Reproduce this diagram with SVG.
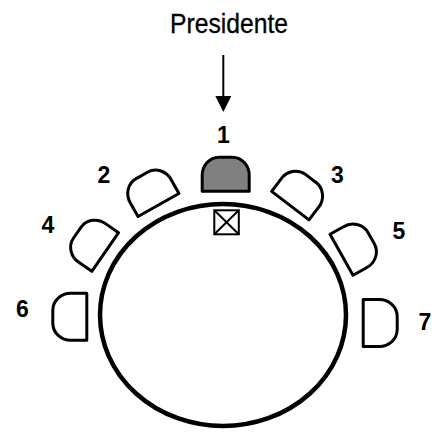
<svg xmlns="http://www.w3.org/2000/svg" width="432" height="432" viewBox="0 0 432 432">
<style>
.chair{fill:#fff;stroke:#000;stroke-width:3;stroke-linejoin:round}
.pres{fill:#808080}
.num{font-family:"Liberation Sans",Arial,sans-serif;font-weight:bold;font-size:23px;text-anchor:middle;fill:#000}
.lbl{font-family:"Liberation Sans",Arial,sans-serif;font-size:27px;text-anchor:middle;fill:#000;stroke:#000;stroke-width:0.3}
</style>
<defs>
<path id="chairShape" d="M -23.5,0 V -15 A 17,18 0 0 1 -6.5,-34 H 6.5 A 17,18 0 0 1 23.5,-15 V 0 Z"/>
</defs>
<g id="title"><text class="lbl" x="229" y="33" textLength="118" lengthAdjust="spacingAndGlyphs">Presidente</text></g>
<g id="connectors">
<line x1="223.3" y1="55" x2="223.3" y2="97" stroke="#000" stroke-width="2"/>
<path d="M215.3,96 L231.3,96 L223.3,112 Z" fill="#000"/>
</g>
<g id="table"><ellipse cx="223" cy="315" rx="123" ry="111" fill="#fff" stroke="#000" stroke-width="4.5"/></g>
<g id="marker-box">
<rect x="214.3" y="210.3" width="24.5" height="24" fill="#fff" stroke="#000" stroke-width="2"/>
<path d="M214.3,210.3 L238.8,234.3 M238.8,210.3 L214.3,234.3" stroke="#000" stroke-width="2"/>
</g>
<g id="chair1"><use href="#chairShape" class="chair pres" transform="translate(225.7,191.2)"/><text class="num" x="223.3" y="143">1</text></g>
<g id="chair2"><use href="#chairShape" class="chair" transform="translate(158.5,205) rotate(-29.4)"/><text class="num" x="104" y="183">2</text></g>
<g id="chair3"><use href="#chairShape" class="chair" transform="translate(290.3,205.6) rotate(37.4)"/><text class="num" x="337.5" y="183">3</text></g>
<g id="chair4"><use href="#chairShape" class="chair" transform="translate(105.2,252) rotate(-55.3)"/><text class="num" x="48" y="233">4</text></g>
<g id="chair5"><use href="#chairShape" class="chair" transform="translate(341.5,254.8) rotate(60.7)"/><text class="num" x="399" y="239">5</text></g>
<g id="chair6"><use href="#chairShape" class="chair" transform="translate(86.8,316.7) rotate(-90)"/><text class="num" x="22.5" y="317">6</text></g>
<g id="chair7"><use href="#chairShape" class="chair" transform="translate(363.2,323) rotate(90)"/><text class="num" x="425" y="330">7</text></g>
</svg>
